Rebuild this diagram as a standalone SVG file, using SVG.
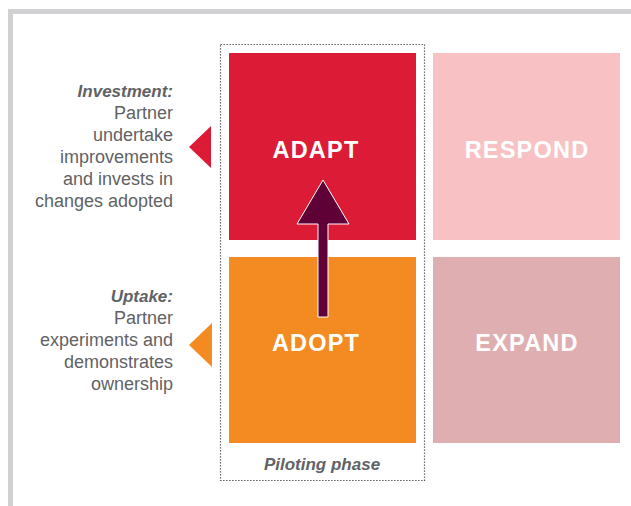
<svg xmlns="http://www.w3.org/2000/svg" width="631" height="506" viewBox="0 0 631 506">
<style>
.side{font-family:"Liberation Sans",Arial,sans-serif;font-size:18px;fill:#616265;text-anchor:end}
.side .h{font-style:italic;font-weight:bold;font-size:17px}
.box{font-family:"Liberation Sans",Arial,sans-serif;font-size:23.5px;fill:#ffffff;text-anchor:middle;font-weight:bold;letter-spacing:1.2px}
.phase{font-family:"Liberation Sans",Arial,sans-serif;font-size:17px;fill:#616265;text-anchor:middle;font-weight:bold;font-style:italic}
</style>
<rect x="0" y="0" width="631" height="506" fill="#ffffff"/>
<g id="frame">
<rect x="8" y="9" width="623" height="5" fill="#d1d1d3"/>
<rect x="8" y="9" width="5" height="497" fill="#d1d1d3"/>
</g>
<g id="piloting">
<rect x="220.5" y="44.5" width="204" height="436" fill="none" stroke="#444" stroke-width="1.2" stroke-dasharray="1.3,1.7"/>
<text class="phase" x="322" y="470">Piloting phase</text>
</g>
<g id="adapt">
<rect x="229" y="53" width="187" height="187" fill="#dc1c37"/>
<text class="box" x="316" y="158">ADAPT</text>
</g>
<g id="respond">
<rect x="433" y="53" width="187" height="187" fill="#f8c2c5"/>
<text class="box" x="527" y="158">RESPOND</text>
</g>
<g id="adopt">
<rect x="229" y="257" width="187" height="186" fill="#f38b22"/>
<text class="box" x="316" y="351">ADOPT</text>
</g>
<g id="expand">
<rect x="433" y="257" width="187" height="186" fill="#dfaeb1"/>
<text class="box" x="527" y="351">EXPAND</text>
</g>
<g id="investment">
<polygon points="189,147 211,126 211,168" fill="#dc1c37"/>
<text class="side"><tspan class="h" x="173" y="97">Investment:</tspan><tspan x="173" y="119">Partner</tspan><tspan x="173" y="141">undertake</tspan><tspan x="173" y="163">improvements</tspan><tspan x="173" y="185">and invests in</tspan><tspan x="173" y="207">changes adopted</tspan></text>
</g>
<g id="uptake">
<polygon points="189,345 212,323 212,367" fill="#f38b22"/>
<text class="side"><tspan class="h" x="173" y="302">Uptake:</tspan><tspan x="173" y="324">Partner</tspan><tspan x="173" y="346">experiments and</tspan><tspan x="173" y="368">demonstrates</tspan><tspan x="173" y="390">ownership</tspan></text>
</g>
<g id="connectors">
<polygon points="323,180 349,224 328,224 328,317 318,317 318,224 297,224" fill="#5f0037" stroke="#ffffff" stroke-width="1"/>
</g>
</svg>
